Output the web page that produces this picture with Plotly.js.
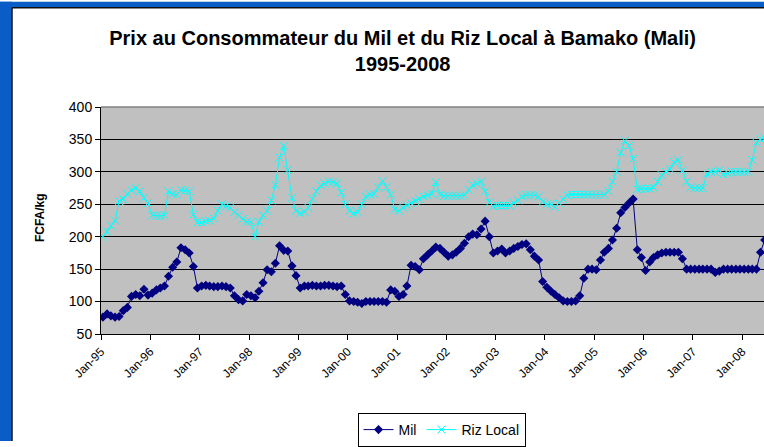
<!DOCTYPE html>
<html>
<head>
<meta charset="utf-8">
<script src="https://cdn.plot.ly/plotly-3.0.1.min.js"></script>
<style>
  html, body { margin: 0; padding: 0; background: #ffffff; }
  #chart { width: 764px; height: 447px; }
</style>
</head>
<body>
<div id="chart"></div>
<script>
// monthly prices, Jan-95 onwards (FCFA/kg)
const startYear = 1995;

const mil = [
  76, 81, 78, 76, 77, 86, 91, 108, 111, 109, 119, 110,
  113, 118, 121, 124, 139, 153, 161, 183, 180, 175, 154, 121,
  124, 125, 124, 123, 123, 124, 123, 121, 109, 103, 101, 111,
  109, 106, 116, 129, 149, 146, 159, 186, 179, 178, 155, 140,
  121, 124, 124, 125, 124, 124, 125, 125, 124, 123, 124, 111,
  101, 100, 99, 97, 100, 100, 100, 100, 100, 99, 118, 116,
  108, 111, 124, 156, 154, 149, 166, 172, 178, 184, 182, 176,
  170, 172, 176, 182, 190, 200, 204, 203, 212, 224, 200, 175,
  178, 181, 175, 178, 182, 185, 188, 189, 180, 170, 164, 131,
  122, 116, 111, 106, 101, 100, 100, 101, 109, 136, 150, 150,
  149, 164, 176, 182, 195, 213, 237, 245, 252, 258, 180, 168,
  148, 161, 168, 172, 175, 176, 176, 176, 176, 166, 150, 150,
  150, 150, 150, 150, 150, 145, 147, 150, 150, 150, 150, 150,
  150, 150, 150, 150, 176, 195
];

const riz = [
  200, 208, 217, 225, 255, 258, 266, 272, 275, 270, 260, 252,
  233, 232, 232, 233, 270, 266, 265, 272, 271, 270, 234, 222,
  222, 224, 225, 228, 240, 250, 247, 245, 238, 233, 227, 223,
  223, 200, 223, 233, 240, 256, 280, 322, 340, 303, 260, 240,
  236, 238, 245, 258, 270, 279, 282, 285, 284, 282, 268, 250,
  240, 236, 238, 250, 262, 265, 266, 276, 286, 276, 265, 242,
  240, 245, 248, 252, 255, 258, 262, 264, 266, 284, 265, 263,
  263, 263, 263, 263, 264, 272, 280, 282, 285, 270, 253, 247,
  248, 248, 248, 248, 252, 256, 262, 264, 264, 264, 262, 254,
  250, 250, 246, 252, 258, 264, 265, 265, 265, 265, 265, 265,
  265, 265, 265, 270, 285, 300, 330, 348, 340, 320, 273, 274,
  274, 274, 276, 285, 295, 300, 304, 315, 318, 302, 285, 276,
  275, 275, 275, 297, 300, 300, 302, 296, 298, 300, 300, 300,
  300, 300, 318, 345, 350, 352
];

// mid-month dates for each observation
const months = mil.map((v, i) => {
  const y = startYear + Math.floor(i / 12);
  const m = (i % 12) + 1;
  return y + "-" + String(m).padStart(2, "0") + "-15";
});

const font = "Arial, 'Liberation Sans', sans-serif";

// plot box in pixels, used for the slide frame shapes
const mL = 101, mR = 0, mT = 107, mB = 109;
const plotW = 764 - mL - mR, plotH = 447 - mT - mB;
const px = (x) => (x - mL) / plotW;
const py = (y) => (447 - mB - y) / plotH;

const data = [
  {
    type: "scatter",
    x: months,
    y: mil,
    mode: "lines+markers",
    name: "Mil",
    line: { color: "#000080", width: 1 },
    marker: { color: "#000080", size: 7, symbol: "diamond" },
  },
  {
    type: "scatter",
    x: months,
    y: riz,
    mode: "lines+markers",
    name: "Riz Local",
    line: { color: "#00FFFF", width: 1 },
    marker: {
      color: "#00FFFF",
      size: 8,
      symbol: "x-thin-open",
      line: { color: "#00FFFF", width: 1 },
    },
  },
];

const layout = {
  width: 764,
  height: 447,
  margin: { l: mL, r: mR, t: mT, b: mB },
  paper_bgcolor: "#ffffff",
  plot_bgcolor: "#C0C0C0",
  font: { family: font, color: "#000000", size: 13 },
  title: {
    text: "Prix au Consommateur du Mil et du Riz Local à Bamako (Mali)<br>1995-2008",
    font: { family: font, size: 20, weight: "bold", color: "#000000" },
    xref: "container",
    x: 0.527,
    xanchor: "center",
    yref: "container",
    y: 0.90,
    yanchor: "top",
  },
  xaxis: {
    type: "date",
    range: ["1995-01-01", "2008-06-10"],
    tick0: "1995-01-01",
    dtick: "M12",
    tickformat: "%b-%y",
    tickangle: -45,
    ticks: "outside",
    ticklen: 5,
    tickcolor: "#000000",
    showgrid: false,
    showline: true,
    linecolor: "#000000",
    linewidth: 1,
    zeroline: false,
    tickfont: { family: font, size: 12 },
  },
  yaxis: {
    range: [50, 400],
    dtick: 50,
    ticks: "outside",
    ticklen: 5,
    tickcolor: "#000000",
    showline: true,
    linecolor: "#000000",
    linewidth: 1,
    gridcolor: "#000000",
    gridwidth: 1,
    zeroline: false,
    tickfont: { family: font, size: 14 },
  },
  showlegend: true,
  legend: {
    orientation: "h",
    x: 0.5136,
    xanchor: "center",
    y: py(419),
    yanchor: "top",
    bgcolor: "#ffffff",
    bordercolor: "#000000",
    borderwidth: 1,
    font: { family: font, size: 14 },
  },
  annotations: [
    {
      text: "FCFA/kg",
      xref: "paper",
      yref: "paper",
      x: px(40),
      y: py(219),
      xanchor: "center",
      yanchor: "middle",
      showarrow: false,
      textangle: -90,
      font: { family: font, size: 12, weight: "bold" },
    },
  ],
  shapes: [
    // blue slide background around the chart
    {
      type: "rect", xref: "paper", yref: "paper", layer: "below",
      x0: px(0), x1: px(12), y0: py(447), y1: py(0),
      fillcolor: "#0A5CC6", line: { width: 0 },
    },
    {
      type: "rect", xref: "paper", yref: "paper", layer: "below",
      x0: px(0), x1: px(764), y0: py(6), y1: py(0),
      fillcolor: "#0A5CC6", line: { width: 0 },
    },
    {
      type: "line", xref: "paper", yref: "paper",
      x0: px(12), x1: px(12), y0: py(447), y1: py(6),
      line: { color: "#111111", width: 1.5 },
    },
    {
      type: "line", xref: "paper", yref: "paper",
      x0: px(12), x1: px(764), y0: py(6), y1: py(6),
      line: { color: "#111111", width: 1.5 },
    },
    // grey top edge of the plot area
    {
      type: "line", xref: "paper", yref: "paper",
      x0: 0, x1: 1, y0: 1, y1: 1,
      line: { color: "#808080", width: 1.5 },
    },
  ],
};

Plotly.newPlot("chart", data, layout, { displayModeBar: false, staticPlot: true });
</script>
</body>
</html>
